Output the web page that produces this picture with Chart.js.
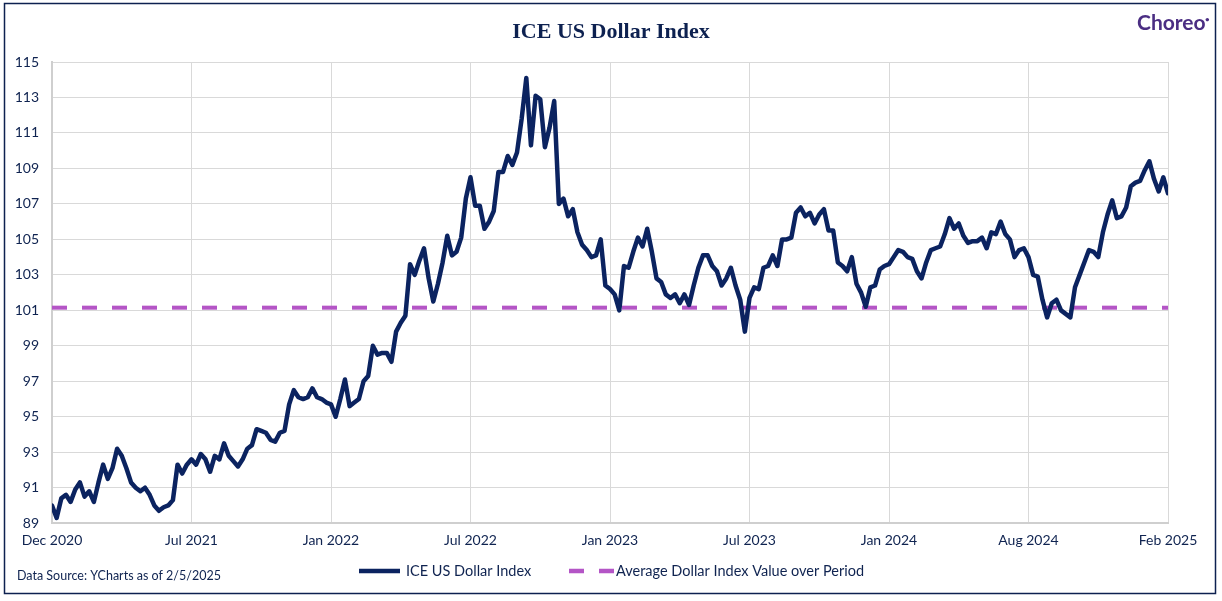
<!DOCTYPE html>
<html lang="en">
<head>
    <meta charset="UTF-8">
    <title>ICE US Dollar Index</title>
    <script src="https://cdn.jsdelivr.net/npm/chart.js"></script>
    <style>
        body {
            margin: 0;
            background: #ffffff;
        }
        .wrap {
            width: 1222px;
            height: 601px;
        }
    </style>
</head>
<body>
    <div class="wrap">
        <canvas id="dxyChart"></canvas>
    </div>

    <script>
        // x-axis tick labels (equally spaced, one every 30 points)
        const xTickLabels = ['Dec 2020', 'Jul 2021', 'Jan 2022', 'Jul 2022', 'Jan 2023', 'Jul 2023', 'Jan 2024', 'Aug 2024', 'Feb 2025'];
        const pointsPerTick = 30;

        // ICE US Dollar Index
        const dxyValues = [
            90.0, 89.3, 90.4, 90.6, 90.2, 90.9, 91.3, 90.5, 90.8, 90.2,
            91.3, 92.3, 91.5, 92.1, 93.2, 92.8, 92.1, 91.3, 91.0, 90.8,
            91.0, 90.6, 90.0, 89.7, 89.9, 90.0, 90.3, 92.3, 91.8, 92.3,
            92.6, 92.3, 92.9, 92.6, 91.9, 92.8, 92.6, 93.5, 92.8, 92.5,
            92.2, 92.6, 93.2, 93.4, 94.3, 94.2, 94.1, 93.7, 93.6, 94.1,
            94.2, 95.7, 96.5, 96.1, 96.0, 96.1, 96.6, 96.1, 96.0, 95.8,
            95.7, 95.0, 96.0, 97.1, 95.6, 95.8, 96.0, 97.0, 97.3, 99.0,
            98.5, 98.6, 98.6, 98.1, 99.8, 100.3, 100.7, 103.6, 103.0, 103.8,
            104.5, 102.8, 101.5, 102.5, 103.7, 105.2, 104.1, 104.3, 105.1, 107.3,
            108.5, 106.9, 106.9, 105.6, 106.0, 106.6, 108.8, 108.8, 109.7, 109.2,
            109.9, 111.8, 114.1, 110.3, 113.1, 112.9, 110.2, 111.3, 112.8, 107.0,
            107.3, 106.3, 106.7, 105.4, 104.7, 104.4, 104.0, 104.1, 105.0, 102.4,
            102.2, 101.9, 101.0, 103.5, 103.4, 104.3, 105.1, 104.6, 105.6, 104.3,
            102.8, 102.6, 101.9, 101.7, 101.9, 101.4, 101.9, 101.3, 102.4, 103.4,
            104.1, 104.1, 103.5, 103.2, 102.4, 102.8, 103.4, 102.4, 101.6, 99.8,
            101.7, 102.3, 102.2, 103.4, 103.5, 104.1, 103.5, 105.0, 105.0, 105.1,
            106.5, 106.8, 106.3, 106.5, 105.9, 106.4, 106.7, 105.5, 105.5, 103.7,
            103.5, 103.2, 104.0, 102.5, 102.0, 101.2, 102.3, 102.4, 103.3, 103.5,
            103.6, 104.0, 104.4, 104.3, 104.0, 103.9, 103.2, 102.8, 103.7, 104.4,
            104.5, 104.6, 105.3, 106.2, 105.6, 105.9, 105.2, 104.8, 104.9, 104.9,
            105.1, 104.5, 105.4, 105.3, 106.0, 105.3, 105.0, 104.0, 104.4, 104.5,
            104.0, 103.0, 102.9, 101.6, 100.6, 101.4, 101.6, 101.0, 100.8, 100.6,
            102.3, 103.0, 103.7, 104.4, 104.3, 104.0, 105.4, 106.4, 107.2, 106.2,
            106.3, 106.8, 108.0, 108.2, 108.3, 108.9, 109.4, 108.4, 107.7, 108.5,
            107.6
        ];

        // average over the period
        const avgValue = 101.15;

        const navy = '#0b2360';
        const purple = '#b455c6';
        const textNavy = '#0f2350';

        const lastIndex = (xTickLabels.length - 1) * pointsPerTick;

        // title, logo, source note, legend and outer frame
        const decorations = {
            id: 'decorations',
            afterDraw(chart) {
                const c = chart.ctx;
                c.save();
                c.strokeStyle = '#0d2150';
                c.lineWidth = 1.5;
                c.strokeRect(4.5, 3.5, 1211, 590);

                c.fillStyle = '#0d2150';
                c.font = 'bold 22px "Liberation Serif"';
                c.textAlign = 'center';
                c.textBaseline = 'alphabetic';
                c.fillText('ICE US Dollar Index', 611, 38);

                c.fillStyle = '#4b2e83';
                c.textAlign = 'left';
                c.font = 'bold 21px Lato';
                c.fillText('Choreo', 1137, 30);
                c.font = 'bold 8px Lato';
                c.fillText('\u2022', 1205, 22);

                c.textBaseline = 'middle';
                c.fillStyle = textNavy;
                c.font = '12.5px Lato';
                c.fillText('Data Source: YCharts as of 2/5/2025', 17, 576);

                // legend
                const ly = 571;
                const items = [
                    { ds: chart.data.datasets[0], x0: 359, x1: 400, tx: 406 },
                    { ds: chart.data.datasets[1], x0: 569, x1: 614, tx: 616 }
                ];
                c.font = '14.5px Lato';
                items.forEach(it => {
                    c.beginPath();
                    c.setLineDash(it.ds.borderDash || []);
                    c.strokeStyle = it.ds.borderColor;
                    c.lineWidth = 4.5;
                    c.moveTo(it.x0, ly);
                    c.lineTo(it.x1, ly);
                    c.stroke();
                    c.setLineDash([]);
                    c.fillStyle = textNavy;
                    c.fillText(it.ds.label, it.tx, ly);
                });
                c.restore();
            }
        };

        const ctx = document.getElementById('dxyChart').getContext('2d');
        new Chart(ctx, {
            type: 'line',
            data: {
                datasets: [
                    {
                        label: 'ICE US Dollar Index',
                        data: dxyValues.map((v, i) => ({ x: i, y: v })),
                        borderColor: navy,
                        backgroundColor: navy,
                        borderWidth: 4.5,
                        borderJoinStyle: 'round',
                        borderCapStyle: 'round',
                        pointRadius: 0,
                        tension: 0
                    },
                    {
                        label: 'Average Dollar Index Value over Period',
                        data: [{ x: 0, y: avgValue }, { x: lastIndex, y: avgValue }],
                        borderColor: purple,
                        backgroundColor: purple,
                        borderWidth: 4,
                        borderDash: [15, 15],
                        pointRadius: 0
                    }
                ]
            },
            options: {
                responsive: true,
                maintainAspectRatio: false,
                animation: false,
                layout: {
                    padding: { left: 0, right: 54, top: 62, bottom: 43 }
                },
                plugins: {
                    title: { display: false },
                    legend: { display: false },
                    tooltip: { enabled: false }
                },
                scales: {
                    x: {
                        type: 'linear',
                        min: 0,
                        max: lastIndex,
                        grid: { color: '#d9d9d9', drawTicks: false },
                        border: { color: '#cfcfcf', width: 2 },
                        ticks: {
                            stepSize: pointsPerTick,
                            autoSkip: false,
                            maxRotation: 0,
                            padding: 9,
                            color: textNavy,
                            font: { family: 'Lato', size: 14 },
                            callback: v => xTickLabels[v / pointsPerTick]
                        }
                    },
                    y: {
                        min: 89,
                        max: 115,
                        grid: { color: '#d9d9d9', drawTicks: false },
                        border: { color: '#cfcfcf', width: 2 },
                        afterFit: scale => { scale.width = 52; },
                        ticks: {
                            stepSize: 2,
                            padding: 13,
                            color: textNavy,
                            font: { family: 'Lato', size: 14 }
                        }
                    }
                }
            },
            plugins: [decorations]
        });
    </script>
</body>
</html>
